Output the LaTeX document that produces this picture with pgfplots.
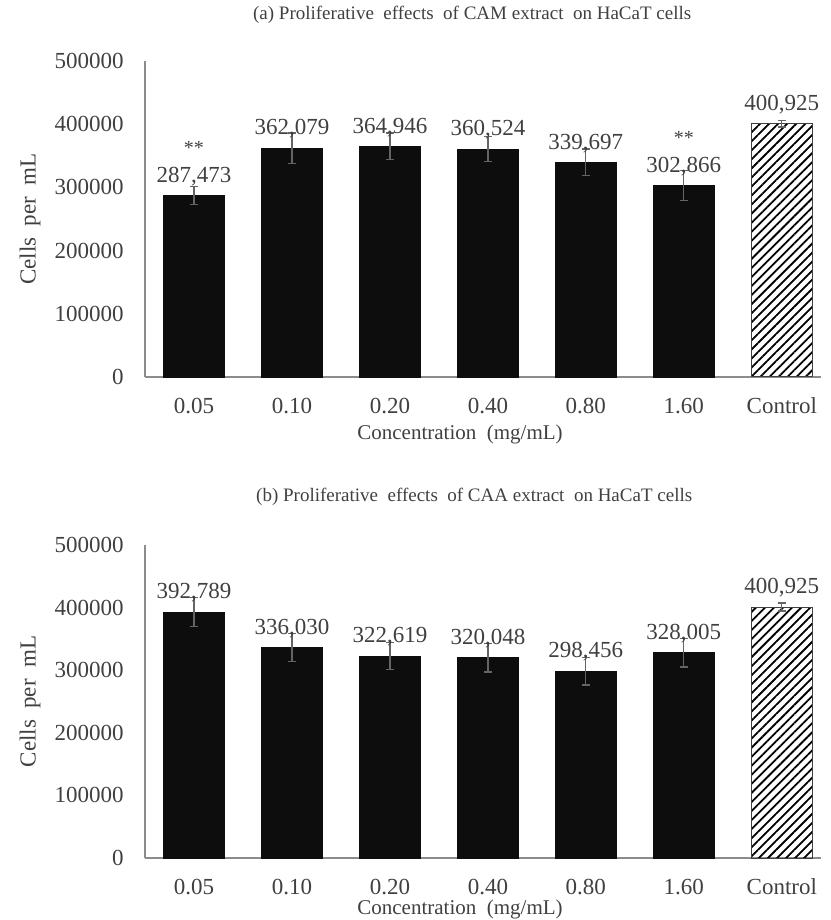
\documentclass[border=0pt]{standalone}
\usepackage{fontspec}
\setmainfont{Liberation Serif}
\usepackage{pgfplots}
\pgfplotsset{compat=1.18}
\usepackage{pgfplotstable}
\usetikzlibrary{patterns.meta}

\definecolor{txt}{RGB}{64,64,64}
\definecolor{axgray}{RGB}{140,140,140}
\definecolor{errgray}{RGB}{100,100,100}
\definecolor{barblack}{RGB}{13,13,13}

\pgfplotstableread{
x y err label
0 287473 14000 287,473
1 362079 24000 362,079
2 364946 21000 364,946
3 360524 20000 360,524
4 339697 21000 339,697
5 302866 24000 302,866
}\dataA
\pgfplotstableread{
x y err label
6 400925 5500 400,925
}\ctrlA
\pgfplotstableread{
x y err label
0 392789 23000 392,789
1 336030 22000 336,030
2 322619 22000 322,619
3 320048 23000 320,048
4 298456 22000 298,456
5 328005 23000 328,005
}\dataB
\pgfplotstableread{
x y err label
6 400925 6500 400,925
}\ctrlB

\pgfplotsset{
  myaxis/.style={
    scale only axis, width=338pt,
    xmin=-0.5, xmax=6.4, ymin=0, ymax=500000,
    axis x line=bottom, axis y line=left,
    axis line style={axgray, line width=0.6pt, -},
    major tick length=0pt,
    xtick={0,1,2,3,4,5,6},
    xticklabels={0.05,0.10,0.20,0.40,0.80,1.60,Control},
    ytick={0,100000,200000,300000,400000,500000},
    scaled y ticks=false,
    /pgf/number format/fixed,
    /pgf/number format/1000 sep={},
    /pgf/number format/assume math mode=true,
    tick label style={font=\fontsize{11.5}{13}\selectfont, text=txt},
    xticklabel style={anchor=base, yshift=-18.4pt},
    yticklabel style={xshift=-7.2pt},
    title style={font=\fontsize{9.5}{11}\selectfont, text=txt, anchor=center},
    xlabel style={font=\fontsize{10.5}{12}\selectfont, text=txt, anchor=center},
    ylabel style={font=\fontsize{11.5}{13}\selectfont, text=txt, anchor=center,
                  at={([xshift=-57.5pt]axis description cs:0,0.5)}},
    xlabel={Concentration~~(mg/mL)},
    ylabel={Cells~~per~~mL},
    clip=false,
  },
  blackbar/.style={
    ybar, bar width=30.5pt, fill=barblack, draw=barblack,
    nodes near coords, point meta=explicit symbolic,
    every node near coord/.append style={font=\fontsize{11.5}{13}\selectfont, text=txt, anchor=base, yshift=6.6pt},
    error bars/.cd, y dir=both, y explicit,
    error bar style={errgray, line width=0.6pt},
    error mark options={errgray, mark size=1.9pt, line width=0.6pt, rotate=90},
  },
  ctrlbar/.style={
    ybar, bar width=30.5pt, draw=black!75, line width=0.5pt,
    pattern={Lines[angle=45, distance=3.2pt, line width=0.9pt]}, pattern color=black,
    nodes near coords, point meta=explicit symbolic,
    every node near coord/.append style={font=\fontsize{11.5}{13}\selectfont, text=txt, anchor=base, yshift=6.6pt},
    error bars/.cd, y dir=both, y explicit,
    error bar style={errgray, line width=0.6pt},
    error mark options={errgray, mark size=1.9pt, line width=0.6pt, rotate=90},
  },
}

\begin{document}
\begin{tikzpicture}
\useasboundingbox (0,0) rectangle (415pt,460pt);

\begin{axis}[myaxis, height=158pt, at={(72.5pt,271.5pt)}, anchor=south west,
  title={(a) Proliferative~~effects~~of CAM extract~~on HaCaT cells},
  title style={at={(axis description cs:0.484,1)}, yshift=17pt},
  xlabel style={at={(axis description cs:0.466,0)}, yshift=-28.5pt}]
\addplot[blackbar] table[x=x, y=y, y error=err, meta=label]{\dataA};
\addplot[ctrlbar] table[x=x, y=y, y error=err, meta=label]{\ctrlA};
\addplot[draw=none, mark=none, nodes near coords, point meta=explicit symbolic,
  every node near coord/.append style={font=\fontsize{10}{11}\selectfont, text=txt, anchor=base, yshift=20.5pt}]
  coordinates {(0,287473) [**] (5,302866) [**]};
\end{axis}

\begin{axis}[myaxis, height=156.5pt, at={(72.5pt,31pt)}, anchor=south west,
  title={(b) Proliferative~~effects~~of CAA extract~~on HaCaT cells},
  title style={at={(axis description cs:0.487,1)}, yshift=18pt},
  xlabel style={at={(axis description cs:0.466,0)}, yshift=-25.5pt}]
\addplot[blackbar] table[x=x, y=y, y error=err, meta=label]{\dataB};
\addplot[ctrlbar] table[x=x, y=y, y error=err, meta=label]{\ctrlB};
\end{axis}
\end{tikzpicture}
\end{document}
